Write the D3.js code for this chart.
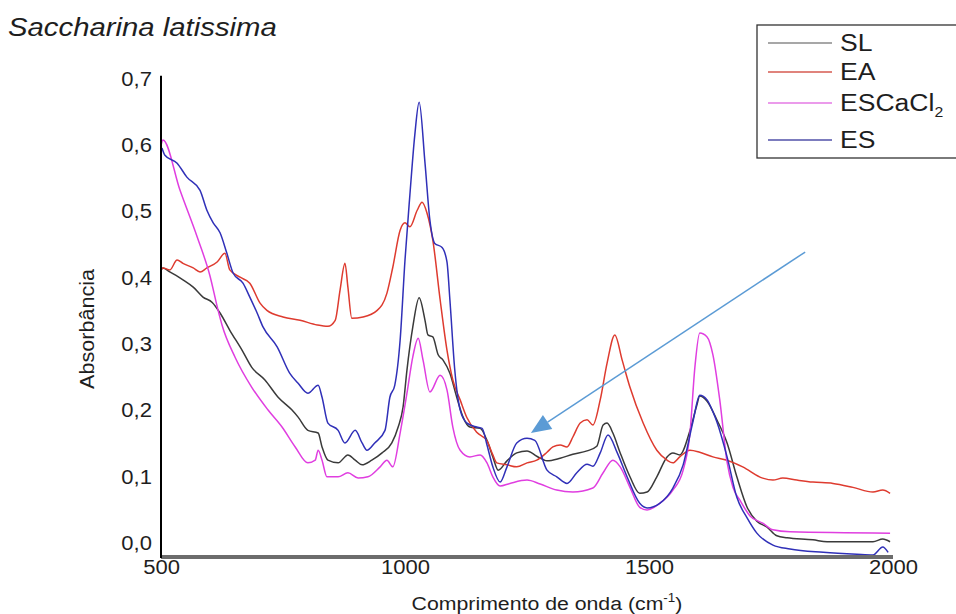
<!DOCTYPE html>
<html>
<head>
<meta charset="utf-8">
<script src="https://cdn.jsdelivr.net/npm/d3@7/dist/d3.min.js"></script>
<style>
  html, body { margin: 0; padding: 0; background: #fff; }
  svg { display: block; }
  text { font-family: "Liberation Sans", Arial, sans-serif; fill: #1e1e1e; }
</style>
</head>
<body>
<svg id="chart" width="956" height="614"></svg>
<script>
// FTIR spectra of Saccharina latissima: [wavenumber (cm-1), absorbance]
const seriesNames = ["SL", "EA", "ESCaCl2", "ES"];

const SL = [
  [500,0.412],[504,0.415],[518,0.409],[545,0.397],[566,0.386],[586,0.371],[605,0.363],
  [621,0.347],[641,0.321],[666,0.291],[686,0.265],[713,0.246],[740,0.220],[768,0.201],
  [781,0.190],[801,0.170],[822,0.166],[830,0.145],[842,0.125],[863,0.121],[883,0.133],
  [898,0.125],[912,0.118],[932,0.125],[953,0.136],[973,0.151],[986,0.175],[996,0.205],
  [1004,0.261],[1016,0.326],[1029,0.370],[1041,0.336],[1047,0.314],[1057,0.311],
  [1068,0.284],[1078,0.276],[1092,0.256],[1106,0.220],[1119,0.190],[1133,0.175],
  [1154,0.173],[1168,0.155],[1180,0.130],[1191,0.110],[1209,0.124],[1229,0.136],
  [1250,0.139],[1270,0.131],[1291,0.124],[1318,0.128],[1344,0.134],[1373,0.139],
  [1393,0.146],[1406,0.178],[1414,0.181],[1426,0.166],[1441,0.136],[1461,0.100],
  [1481,0.075],[1496,0.077],[1516,0.100],[1537,0.130],[1549,0.136],[1563,0.133],
  [1584,0.170],[1598,0.208],[1604,0.222],[1619,0.214],[1639,0.186],[1660,0.151],
  [1680,0.100],[1701,0.054],[1721,0.033],[1742,0.024],[1762,0.011],[1783,0.008],
  [1836,0.005],[1865,0.002],[1959,0.002],[1979,0.006],[1994,0.002]
];

const EA = [
  [500,0.412],[504,0.415],[518,0.412],[533,0.427],[545,0.422],[566,0.415],[580,0.409],
  [594,0.415],[615,0.424],[631,0.437],[641,0.412],[662,0.401],[682,0.392],[703,0.362],
  [717,0.351],[750,0.341],[785,0.336],[820,0.329],[842,0.327],[857,0.336],[867,0.382],
  [877,0.422],[883,0.386],[891,0.339],[914,0.341],[943,0.351],[963,0.377],[975,0.416],
  [990,0.472],[1000,0.483],[1010,0.477],[1025,0.502],[1035,0.514],[1045,0.498],
  [1057,0.457],[1072,0.367],[1086,0.291],[1098,0.246],[1113,0.216],[1127,0.189],
  [1147,0.167],[1168,0.154],[1180,0.133],[1188,0.121],[1209,0.118],[1229,0.115],
  [1250,0.121],[1270,0.125],[1291,0.137],[1303,0.145],[1318,0.148],[1332,0.145],
  [1344,0.160],[1359,0.181],[1373,0.186],[1385,0.178],[1400,0.216],[1414,0.271],
  [1430,0.314],[1445,0.276],[1461,0.235],[1488,0.181],[1516,0.140],[1537,0.125],
  [1549,0.121],[1563,0.130],[1584,0.140],[1604,0.137],[1631,0.130],[1660,0.125],
  [1692,0.115],[1733,0.098],[1754,0.095],[1774,0.098],[1803,0.095],[1836,0.092],
  [1877,0.090],[1918,0.084],[1959,0.077],[1979,0.080],[1994,0.075]
];

const ESCaCl2 = [
  [500,0.600],[504,0.608],[539,0.532],[574,0.462],[600,0.404],[617,0.351],[625,0.329],
  [652,0.280],[686,0.235],[719,0.201],[748,0.175],[775,0.145],[801,0.121],[816,0.125],
  [822,0.140],[830,0.125],[840,0.100],[863,0.100],[883,0.106],[904,0.098],[924,0.100],
  [949,0.115],[963,0.125],[975,0.115],[990,0.166],[1004,0.226],[1016,0.281],[1027,0.309],
  [1037,0.276],[1051,0.228],[1072,0.253],[1086,0.231],[1098,0.175],[1113,0.140],
  [1133,0.130],[1154,0.133],[1168,0.121],[1180,0.100],[1195,0.086],[1215,0.090],
  [1250,0.095],[1277,0.089],[1311,0.080],[1344,0.077],[1385,0.083],[1406,0.106],
  [1426,0.125],[1441,0.115],[1461,0.084],[1481,0.054],[1496,0.050],[1522,0.060],
  [1549,0.080],[1570,0.110],[1584,0.166],[1594,0.265],[1604,0.317],[1619,0.311],
  [1631,0.284],[1645,0.216],[1660,0.122],[1672,0.084],[1686,0.065],[1707,0.041],
  [1733,0.030],[1754,0.020],[1789,0.017],[1994,0.015]
];

const ES = [
  [502,0.596],[508,0.585],[533,0.573],[553,0.552],[580,0.532],[594,0.502],[607,0.483],
  [621,0.468],[635,0.437],[648,0.407],[668,0.392],[682,0.371],[697,0.347],[709,0.326],
  [738,0.296],[764,0.256],[781,0.241],[801,0.226],[822,0.238],[830,0.220],[842,0.181],
  [863,0.170],[877,0.151],[898,0.170],[912,0.151],[922,0.140],[938,0.151],[959,0.170],
  [969,0.220],[979,0.238],[990,0.306],[1000,0.427],[1010,0.525],[1020,0.615],
  [1029,0.665],[1041,0.573],[1051,0.487],[1061,0.452],[1076,0.446],[1086,0.424],
  [1092,0.367],[1102,0.261],[1113,0.201],[1127,0.181],[1147,0.175],[1158,0.173],
  [1168,0.148],[1180,0.115],[1195,0.092],[1209,0.115],[1229,0.151],[1250,0.158],
  [1266,0.155],[1291,0.110],[1311,0.100],[1332,0.090],[1352,0.106],[1373,0.119],
  [1385,0.116],[1400,0.136],[1416,0.163],[1435,0.136],[1455,0.100],[1481,0.060],
  [1496,0.053],[1522,0.060],[1549,0.083],[1570,0.118],[1590,0.183],[1604,0.223],
  [1619,0.216],[1631,0.198],[1639,0.183],[1660,0.130],[1680,0.069],[1701,0.038],
  [1721,0.015],[1754,-0.003],[1789,-0.009],[1857,-0.014],[1926,-0.017],[1959,-0.018],
  [1979,-0.006],[1990,-0.014]
];

const seriesColors = ["#3a3a3a", "#de3b2f", "#e03ee0", "#3030b8"];
const legendColors = ["#8a8a8a", "#d65a50", "#e57ae5", "#5050a8"];

const xTicks = [500, 1000, 1500, 2000];
const yTicks = [0, 0.1, 0.2, 0.3, 0.4, 0.5, 0.6, 0.7];

// annotation arrow: from (wavenumber, absorbance) to tip
const arrowFrom = [1820, 0.439];
const arrowTo = [1258, 0.166];

const svg = d3.select("#chart");
const SX = 1.13; // horizontal text stretch

const x = d3.scaleLinear().domain([500, 2000]).range([161, 893]);
const y = d3.scaleLinear().domain([-0.021, 0.703]).range([557, 77]);

const locale = d3.formatLocale({decimal: ",", thousands: ".", grouping: [3], currency: ["", ""]});
const fmt = locale.format(".1f");

// title
svg.append("text")
  .attr("transform", "translate(8,36) scale(1.15,1)")
  .style("font-size", "25.5px").style("font-style", "italic")
  .text("Saccharina latissima");

// series
const line = d3.line().x(d => x(d[0])).y(d => y(d[1])).curve(d3.curveMonotoneX);
const allSeries = [SL, EA, ESCaCl2, ES];
svg.append("g").selectAll("path").data(allSeries).join("path")
  .attr("d", line)
  .attr("fill", "none")
  .attr("stroke", (d, i) => seriesColors[i])
  .attr("stroke-width", 1.5)
  .attr("stroke-linejoin", "round");

// axes
const yAxis = svg.append("g").attr("transform", `translate(${x(500)},0)`)
  .call(d3.axisLeft(y).tickValues(yTicks).tickFormat(fmt).tickSize(0).tickPadding(8));
yAxis.select(".domain").remove();
yAxis.selectAll("text").style("font-size", "19.5px").attr("font-family", null)
  .attr("transform", `scale(${SX},1)`);

const xAxis = svg.append("g").attr("transform", `translate(0,${y(-0.021)})`)
  .call(d3.axisBottom(x).tickValues(xTicks).tickFormat(d3.format("d")).tickSize(0).tickPadding(3));
xAxis.select(".domain").remove();
xAxis.selectAll(".tick text").style("font-size", "19.5px").attr("font-family", null)
  .attr("transform", `scale(${SX},1)`);

// axis lines
svg.append("line")
  .attr("x1", x(500)).attr("x2", x(2000)).attr("y1", y(-0.021)).attr("y2", y(-0.021))
  .attr("stroke", "#6c6c6c").attr("stroke-width", 4);
svg.append("line")
  .attr("x1", x(500)).attr("x2", x(500)).attr("y1", y(0.705)).attr("y2", y(-0.021) + 1)
  .attr("stroke", "#000").attr("stroke-width", 2);

// axis titles
const xt = svg.append("text")
  .attr("transform", "translate(547,610) scale(1.12,1)")
  .attr("text-anchor", "middle").style("font-size", "19px");
xt.append("tspan").text("Comprimento de onda (cm");
xt.append("tspan").attr("dy", -8).style("font-size", "12px").text("-1");
xt.append("tspan").attr("dy", 8).text(")");

svg.append("text")
  .attr("transform", "translate(94,329) rotate(-90)")
  .attr("text-anchor", "middle").style("font-size", "21px")
  .attr("textLength", 120).attr("lengthAdjust", "spacingAndGlyphs")
  .text("Absorbância");

// arrow annotation
const ax0 = x(arrowFrom[0]), ay0 = y(arrowFrom[1]);
const ax1 = x(arrowTo[0]), ay1 = y(arrowTo[1]);
const ang = Math.atan2(ay1 - ay0, ax1 - ax0);
const headLen = 20, headW = 8.5;
const bx = ax1 - headLen * Math.cos(ang), by = ay1 - headLen * Math.sin(ang);
svg.append("line")
  .attr("x1", ax0).attr("y1", ay0).attr("x2", bx).attr("y2", by)
  .attr("stroke", "#5b9bd5").attr("stroke-width", 1.5);
svg.append("path")
  .attr("d", `M${ax1},${ay1}L${bx + headW * Math.sin(ang)},${by - headW * Math.cos(ang)}L${bx - headW * Math.sin(ang)},${by + headW * Math.cos(ang)}Z`)
  .attr("fill", "#5b9bd5");

// legend
const lg = svg.append("g");
lg.append("rect").attr("x", 757).attr("y", 25).attr("width", 230).attr("height", 133)
  .attr("fill", "#fff").attr("stroke", "#333").attr("stroke-width", 1.3);
const rowY = [43, 72, 103, 140];
seriesNames.forEach((name, i) => {
  lg.append("line").attr("x1", 768).attr("x2", 832).attr("y1", rowY[i]).attr("y2", rowY[i])
    .attr("stroke", legendColors[i]).attr("stroke-width", 1.3);
  const t = lg.append("text")
    .attr("transform", `translate(840,${rowY[i] + 8}) scale(${SX},1)`)
    .style("font-size", "23.5px");
  if (name === "ESCaCl2") {
    t.append("tspan").text("ESCaCl");
    t.append("tspan").attr("dy", 6).style("font-size", "14px").text("2");
  } else {
    t.text(name);
  }
});
</script>
</body>
</html>
